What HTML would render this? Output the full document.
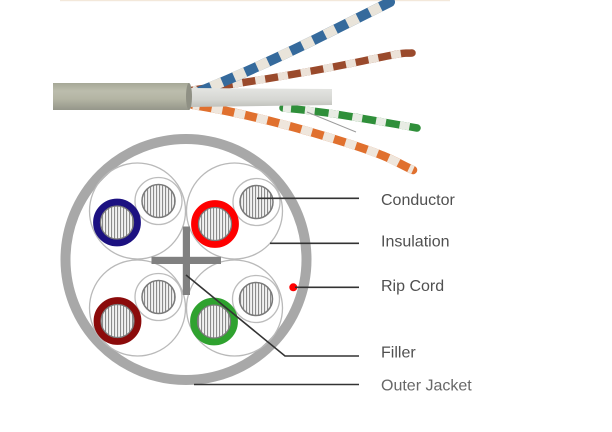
<!DOCTYPE html>
<html>
<head>
<meta charset="utf-8">
<style>
html,body{margin:0;padding:0;background:#fff;}
svg{display:block;}
text{font-family:"Liberation Sans",sans-serif;font-size:16px;}
</style>
</head>
<body>
<svg width="612" height="432" viewBox="0 0 612 432" xmlns="http://www.w3.org/2000/svg">
<defs>
  <pattern id="str" patternUnits="userSpaceOnUse" width="3" height="3">
    <rect width="3" height="3" fill="#f2f2f2"/>
    <rect x="0" width="1.1" height="3" fill="#8c8c8c"/>
  </pattern>
  <linearGradient id="jk" x1="0" y1="0" x2="0" y2="1">
    <stop offset="0" stop-color="#a6a897"/>
    <stop offset="0.3" stop-color="#bcbdad"/>
    <stop offset="0.6" stop-color="#b3b4a3"/>
    <stop offset="1" stop-color="#95968a"/>
  </linearGradient>
  <linearGradient id="fl" x1="0" y1="0" x2="0" y2="1">
    <stop offset="0" stop-color="#e4e5e2"/>
    <stop offset="0.6" stop-color="#d6d7d3"/>
    <stop offset="1" stop-color="#bfc0bb"/>
  </linearGradient>
</defs>

<!-- faint top line -->
<rect x="60" y="0" width="390" height="1.2" fill="#f3e8da"/>

<!-- ===== Photo of cable ===== -->
<!-- orange pair -->
<path d="M193,105 C240,112 300,128 347,143 S395,162 413,170" fill="none" stroke="#e0702e" stroke-width="8.5" stroke-linecap="round"/>
<path d="M193,105 C240,112 300,128 347,143 S395,162 413,170" fill="none" stroke="#efe6dc" stroke-width="8.5" stroke-dasharray="11 12" stroke-dashoffset="4"/>
<!-- green pair -->
<path d="M283,108 C320,111 350,116 417,128" fill="none" stroke="#2f8f3a" stroke-width="7.5" stroke-linecap="round"/>
<path d="M283,108 C320,111 350,116 417,128" fill="none" stroke="#e8ece4" stroke-width="7.5" stroke-dasharray="10 14" stroke-dashoffset="2"/>
<!-- rip cord thread -->
<line x1="307" y1="112" x2="356" y2="132" stroke="#9a9a9a" stroke-width="1"/>
<!-- brown pair -->
<path d="M193,90 C250,82 310,72 363,61 S400,54 412,53" fill="none" stroke="#9a4a2c" stroke-width="7.5" stroke-linecap="round"/>
<path d="M193,90 C250,82 310,72 363,61 S400,54 412,53" fill="none" stroke="#ece2d8" stroke-width="7.5" stroke-dasharray="10 13" stroke-dashoffset="6"/>
<!-- blue pair -->
<path d="M188,96 C230,80 290,52 320,37 S370,12 390,2" fill="none" stroke="#356a9c" stroke-width="10" stroke-linecap="round"/>
<path d="M188,96 C230,80 290,52 320,37 S370,12 390,2" fill="none" stroke="#e9e4da" stroke-width="10" stroke-dasharray="12 13"/>
<!-- filler strip -->
<polygon points="190,88 332,89 332,105 190,107" fill="url(#fl)"/>
<!-- jacket -->
<rect x="53" y="83" width="136" height="27" fill="url(#jk)"/>
<ellipse cx="189" cy="96.5" rx="3" ry="13.5" fill="#8f9084"/>

<!-- ===== Cross section ===== -->
<!-- outer jacket -->
<circle cx="186" cy="259.5" r="120.5" fill="#fff" stroke="#a8a8a8" stroke-width="10"/>

<!-- pair circles -->
<g fill="none" stroke="#b9b9b9" stroke-width="1.3">
  <circle cx="137.5" cy="211" r="48"/>
  <circle cx="234.5" cy="211" r="48"/>
  <circle cx="137.5" cy="308" r="48"/>
  <circle cx="234.5" cy="308" r="48"/>
</g>

<!-- small conductors -->
<g stroke="#bcbcbc" stroke-width="1.3" fill="#fff">
  <circle cx="158.5" cy="201" r="23.5"/>
  <circle cx="256.5" cy="202" r="23.5"/>
  <circle cx="158.5" cy="297" r="23.5"/>
  <circle cx="256" cy="299" r="23.5"/>
</g>
<g stroke="#7a7a7a" stroke-width="1.5" fill="url(#str)">
  <circle cx="158.5" cy="201" r="16.5"/>
  <circle cx="256.5" cy="202" r="16.5"/>
  <circle cx="158.5" cy="297" r="16.5"/>
  <circle cx="256" cy="299" r="16.5"/>
</g>

<!-- colored conductors -->
<circle cx="117" cy="222.5" r="20.2" fill="url(#str)" stroke="#1c1181" stroke-width="7.4"/>
<circle cx="215" cy="224" r="20.2" fill="url(#str)" stroke="#fe0000" stroke-width="7.4"/>
<circle cx="117.5" cy="321" r="20.2" fill="url(#str)" stroke="#8b0b0b" stroke-width="7.4"/>
<circle cx="214" cy="321.5" r="20.2" fill="url(#str)" stroke="#2fa22f" stroke-width="7.4"/>
<g fill="none" stroke="#7a7a7a" stroke-width="1.3">
  <circle cx="117" cy="222.5" r="16.5"/>
  <circle cx="215" cy="224" r="16.5"/>
  <circle cx="117.5" cy="321" r="16.5"/>
  <circle cx="214" cy="321.5" r="16.5"/>
</g>

<!-- filler cross -->
<rect x="182.8" y="226.5" width="7.2" height="68.5" fill="#808080"/>
<rect x="151.5" y="256.8" width="69.5" height="7.2" fill="#808080"/>

<!-- rip cord -->
<circle cx="293.3" cy="287.3" r="4" fill="#ff0000"/>

<!-- leader lines -->
<g stroke="#333" stroke-width="1.6" fill="none">
  <line x1="257" y1="198.3" x2="359" y2="198.3"/>
  <line x1="270" y1="243.3" x2="359" y2="243.3"/>
  <line x1="295" y1="287.3" x2="359" y2="287.3"/>
  <polyline points="186,275 285,356 359,356"/>
  <line x1="194" y1="384.5" x2="359" y2="384.5"/>
</g>

<!-- labels -->
<g fill="#505050">
  <text x="381" y="205">Conductor</text>
  <text x="381" y="246.5">Insulation</text>
  <text x="381" y="291">Rip Cord</text>
  <text x="381" y="357.5">Filler</text>
  <text x="381" y="390.5" fill="#686868">Outer Jacket</text>
</g>
</svg>
</body>
</html>
